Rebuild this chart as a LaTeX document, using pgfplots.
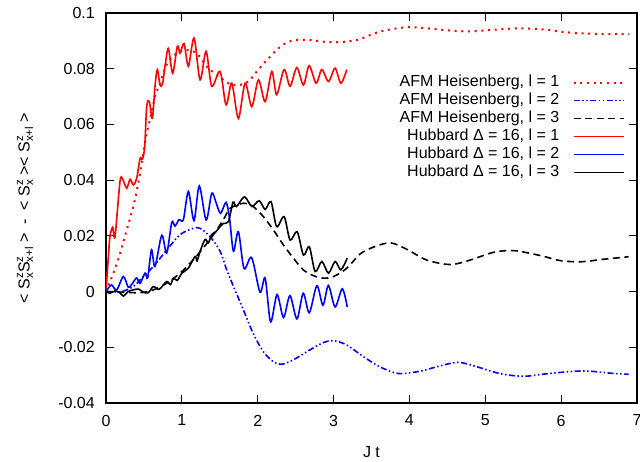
\documentclass[border=0pt]{standalone}
\usepackage{fontspec}
\setmainfont{Liberation Sans}
\usepackage{pgfplots}
\pgfplotsset{compat=1.18}
\newcommand\sz[2]{\rlap{\raisebox{6.5bp}{\fontsize{11.5bp}{12bp}\selectfont #1}}\raisebox{-3.5bp}{\fontsize{11.5bp}{12bp}\selectfont #2}}
\newcommand\ylab{< S\sz{z}{x}S\sz{z}{x+l} > \ - \ < S\sz{z}{x} >< S\sz{z}{x+l} >}
\begin{document}
\begin{tikzpicture}[font=\fontsize{16bp}{19bp}\selectfont]
\begin{axis}[name=ax,
  scale only axis, width=531bp, height=390bp,
  xmin=0, xmax=7, ymin=-0.04, ymax=0.1,
  xtick={0,1,2,3,4,5,6,7}, xticklabels={0,1,2,3,4,5,6,7},
  ytick={-0.04,-0.02,0,0.02,0.04,0.06,0.08,0.1},
  yticklabels={-0.04,-0.02,0,0.02,0.04,0.06,0.08,0.1},
  /pgf/number format/assume math mode=true,
  tick align=inside, major tick length=8bp,
  tick style={black, line width=1bp},
  axis line style={black, line width=1.1bp},
  x tick label style={yshift=-8.4bp},
  y tick label style={xshift=-7.7bp},
  xlabel={J t},
  xlabel style={at={(axis description cs:0.5,0)}, anchor=center, yshift=-49bp},
  ylabel={\ylab},
  ylabel style={at={(axis description cs:-0.1525,0.5)}, anchor=center, rotate=0},
  legend plot pos=right,
  legend cell align=right,
  legend style={draw=none, fill=none, inner sep=0pt,
    at={(axis description cs:0.977,0.845)}, anchor=north east,
    nodes={inner sep=0.25bp, text height=13bp, text depth=4.5bp}},
  legend image code/.code={\path (0bp,0bp); \draw[#1] (13bp,0bp) -- (63bp,0bp);},
  every axis plot/.append style={line width=1.6bp, smooth, tension=0.5},
]
\addplot[red, line width=2bp, dash pattern=on 2bp off 4.7bp] coordinates {
(0,0)(0.097,0.0066)(0.185,0.0137)(0.273,0.0221)(0.36,0.0305)(0.426,0.0389)(0.47,0.046)(0.537,0.057)(0.58,0.0617)(0.646,0.070)(0.712,0.0748)(0.80,0.0815)(0.93,0.0855)(1.06,0.0867)(1.197,0.0855)(1.33,0.0807)(1.46,0.0778)(1.636,0.0744)(1.768,0.0742)(1.877,0.0754)(1.988,0.079)(2.12,0.0831)(2.252,0.0868)(2.383,0.0894)(2.515,0.0903)(2.69,0.0903)(2.867,0.0897)(3.04,0.0895)(3.31,0.0903)(3.61,0.0933)(3.967,0.0949)(4.23,0.0945)(4.54,0.0937)(4.80,0.0934)(5.11,0.0940)(5.46,0.0945)(5.77,0.0941)(5.99,0.0933)(6.25,0.0927)(6.6,0.0924)(6.9,0.0924)};
\addlegendentry{AFM Heisenberg, l = 1}
\addplot[blue, dash pattern=on 6bp off 2.5bp on 1.5bp off 2.5bp on 1.5bp off 2.5bp] coordinates {
(0,0)(0.2,0.0)(0.36,0.0018)(0.49,0.0054)(0.624,0.009)(0.80,0.0149)(0.976,0.0204)(1.15,0.0227)(1.24,0.0227)(1.372,0.0197)(1.504,0.0145)(1.59,0.0079)(1.68,0.0019)(1.81,-0.0065)(1.94,-0.015)(2.075,-0.0216)(2.207,-0.0252)(2.317,-0.0261)(2.47,-0.0245)(2.69,-0.0209)(2.867,-0.0183)(3.0,-0.0176)(3.175,-0.0192)(3.395,-0.0234)(3.61,-0.027)(3.85,-0.0294)(4.14,-0.0286)(4.36,-0.027)(4.64,-0.0254)(4.89,-0.027)(5.2,-0.0295)(5.51,-0.0304)(5.81,-0.0295)(6.17,-0.0286)(6.39,-0.0286)(6.65,-0.0293)(6.89,-0.0297)};
\addlegendentry{AFM Heisenberg, l = 2}
\addplot[black, dash pattern=on 7bp off 4.5bp] coordinates {
(0,0)(0.36,-0.0004)(0.49,-0.0003)(0.624,0.0006)(0.80,0.003)(0.976,0.0066)(1.15,0.0114)(1.33,0.0173)(1.46,0.0221)(1.57,0.0269)(1.636,0.0299)(1.81,0.0317)(1.94,0.0305)(2.075,0.0269)(2.207,0.0221)(2.34,0.0167)(2.47,0.012)(2.60,0.0078)(2.735,0.0057)(2.867,0.0048)(3.0,0.0054)(3.175,0.0084)(3.35,0.0135)(3.53,0.016)(3.75,0.0175)(3.97,0.0151)(4.23,0.0113)(4.54,0.0097)(4.80,0.0113)(5.11,0.0141)(5.38,0.0147)(5.73,0.0129)(5.99,0.0111)(6.26,0.0107)(6.56,0.0116)(6.89,0.0125)};
\addlegendentry{AFM Heisenberg, l = 3}
\addplot[red, solid] coordinates {
(0,0)(0.03,0.012)(0.053,0.0199)(0.088,0.0231)(0.119,0.0198)(0.185,0.0396)(0.22,0.0403)(0.273,0.0371)(0.317,0.0403)(0.36,0.0383)(0.405,0.0407)(0.449,0.0478)(0.48,0.0475)(0.51,0.052)(0.537,0.0665)(0.571,0.0683)(0.611,0.0622)(0.646,0.0737)(0.677,0.0797)(0.712,0.0742)(0.745,0.0745)(0.778,0.0809)(0.822,0.0873)(0.879,0.0784)(0.941,0.0881)(0.976,0.0856)(1.029,0.0890)(1.086,0.0809)(1.161,0.0910)(1.24,0.0760)(1.32,0.0862)(1.394,0.0737)(1.504,0.0790)(1.583,0.067)(1.658,0.0748)(1.745,0.0622)(1.834,0.0748)(1.922,0.0664)(2.01,0.0760)(2.098,0.0682)(2.186,0.0790)(2.25,0.0707)(2.348,0.0797)(2.427,0.0737)(2.515,0.0804)(2.603,0.0742)(2.678,0.0811)(2.77,0.0748)(2.845,0.0797)(2.933,0.0754)(3.02,0.0802)(3.096,0.0748)(3.175,0.0797)};
\addlegendentry{Hubbard Δ = 16, l = 1}
\addplot[blue, solid] coordinates {
(0,0)(0.03,0.0012)(0.075,0.0024)(0.141,0.0006)(0.229,0.0054)(0.294,0.0016)(0.35,0.003)(0.405,0.0049)(0.449,0.003)(0.515,0.0066)(0.55,0.005)(0.60,0.015)(0.646,0.009)(0.735,0.0202)(0.80,0.0138)(0.867,0.0248)(0.91,0.0235)(0.963,0.0258)(1.02,0.0258)(1.086,0.0359)(1.16,0.0255)(1.23,0.0379)(1.32,0.0257)(1.394,0.0353)(1.45,0.032)(1.51,0.0281)(1.583,0.032)(1.63,0.026)(1.68,0.0145)(1.745,0.0215)(1.82,0.0083)(1.92,0.0122)(2.03,-0.0002)(2.098,0.0048)(2.17,-0.0109)(2.255,-0.0011)(2.34,-0.0093)(2.425,-0.0015)(2.517,-0.0098)(2.60,-0.0006)(2.68,-0.0076)(2.78,0.0021)(2.86,-0.0049)(2.932,0.0022)(3.02,-0.0055)(3.115,0.001)(3.18,-0.0055)};
\addlegendentry{Hubbard Δ = 16, l = 2}
\addplot[black, solid] coordinates {
(0,0)(0.05,-0.0006)(0.12,0.0002)(0.18,-0.0004)(0.23,-0.0016)(0.29,0.0)(0.36,0.0006)(0.43,0.0009)(0.49,-0.0002)(0.558,-0.0004)(0.624,0.0018)(0.7,0.0008)(0.80,0.0036)(0.85,0.0025)(0.888,0.0048)(0.94,0.004)(1.0,0.0066)(1.086,0.0084)(1.174,0.0126)(1.2,0.011)(1.24,0.0144)(1.306,0.0187)(1.35,0.0175)(1.394,0.0205)(1.45,0.0215)(1.504,0.0233)(1.55,0.0245)(1.614,0.0251)(1.675,0.0321)(1.72,0.0305)(1.825,0.034)(1.922,0.0306)(2.02,0.0326)(2.098,0.0295)(2.175,0.0323)(2.25,0.0233)(2.348,0.0269)(2.427,0.0185)(2.52,0.0215)(2.603,0.0131)(2.68,0.0161)(2.757,0.0072)(2.846,0.0108)(2.933,0.0066)(3.02,0.0108)(3.096,0.0078)(3.18,0.012)};
\addlegendentry{Hubbard Δ = 16, l = 3}
\end{axis}
\pgfresetboundingbox
\path[use as bounding box] ([shift={(-106bp,-59bp)}]ax.south west) rectangle ([shift={(3bp,13bp)}]ax.north east);
\end{tikzpicture}
\end{document}
